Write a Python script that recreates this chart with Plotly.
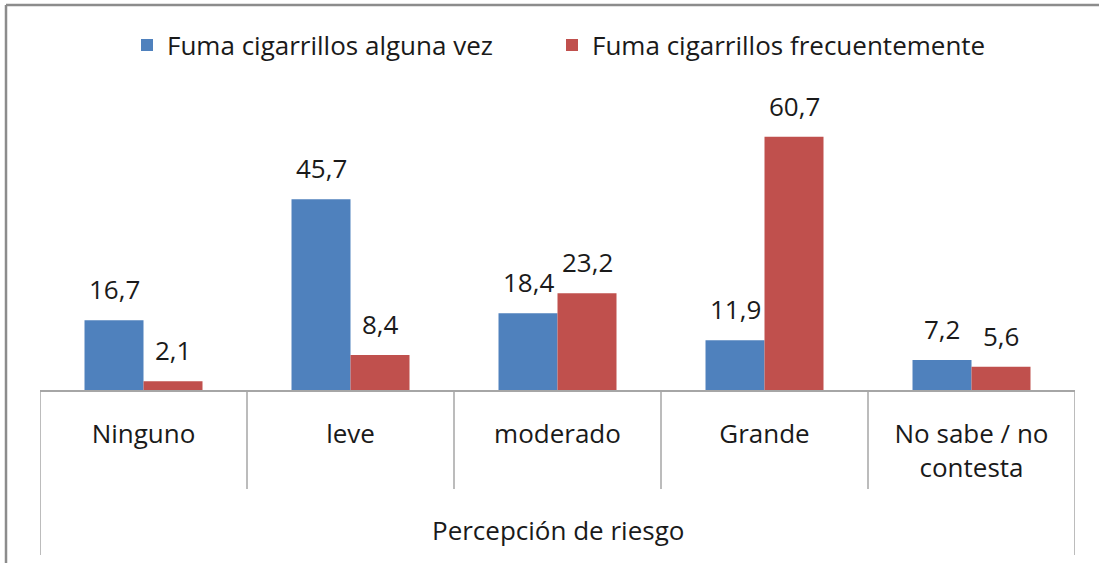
import plotly.graph_objects as go

# categories and series
categorias = ["Ninguno", "leve", "moderado", "Grande", "No sabe / no<br>contesta"]
alguna_vez = [16.7, 45.7, 18.4, 11.9, 7.2]
frecuente = [2.1, 8.4, 23.2, 60.7, 5.6]
series = [
    ("Fuma cigarrillos alguna vez", alguna_vez, "#4F81BD", "legend", 140),
    ("Fuma cigarrillos frecuentemente", frecuente, "#C0504D", "legend2", 565),
]
eje_titulo = "Percepción de riesgo"

FONT = "Open Sans"
TXT = "#1a1a1a"
GRID = "#a6a6a6"

# layout in pixels -> paper fractions
W, H = 1099, 563
L, R, T, B = 40, 24, 98, 173
PW, PH = W - L - R, H - T - B
def px_x(px):
    return (px - L) / PW
def px_y(py):
    return (H - B - py) / PH

BARGAP = 0.43
bar_w = (1 - BARGAP) / 2

fig = go.Figure()
for nombre, valores, color, leg, _ in series:
    fig.add_trace(go.Bar(
        name=nombre, x=list(range(len(categorias))), y=valores,
        marker=dict(color=color, line=dict(width=0)), legend=leg,
    ))

# value labels, a bit above each bar
for k, (nombre, valores, color, leg, _) in enumerate(series):
    off = (k - 0.5) * bar_w
    for i, v in enumerate(valores):
        fig.add_annotation(
            x=i + off, y=v, xref="x", yref="y",
            text=f"{v:.1f}".replace(".", ","),
            showarrow=False, yanchor="bottom", yshift=11,
            font=dict(family=FONT, size=26, color=TXT),
        )

# table-like dividers under the category axis
n = len(categorias)
for j in range(n + 1):
    outer = j in (0, n)
    fig.add_shape(
        type="line", xref="x", yref="paper",
        x0=j - 0.5, x1=j - 0.5, y0=0, y1=px_y(555 if outer else 489),
        line=dict(color=GRID, width=1.5),
    )

fig.add_annotation(
    x=0.5, y=px_y(530), xref="paper", yref="paper", text=eje_titulo,
    showarrow=False, yanchor="middle",
    font=dict(family=FONT, size=26, color=TXT),
)

# outer chart frame (top and left edges visible)
fig.add_shape(type="line", xref="paper", yref="paper",
              x0=px_x(6), x1=px_x(W + 5), y0=px_y(5), y1=px_y(5),
              line=dict(color="#8c8c8c", width=2.5))
fig.add_shape(type="line", xref="paper", yref="paper",
              x0=px_x(6), x1=px_x(6), y0=px_y(5), y1=px_y(H + 5),
              line=dict(color="#8c8c8c", width=2.5))

# one legend box per series so the two entries sit where the original has them
legends = {}
for nombre, valores, color, leg, sq_x in series:
    legends[leg] = dict(
        orientation="h", xref="container", x=(sq_x - 13) / W, xanchor="left",
        yref="container", y=1 - 45 / H, yanchor="middle",
        font=dict(family=FONT, size=26, color=TXT),
        itemwidth=30, bgcolor="rgba(0,0,0,0)",
    )

fig.update_layout(
    width=W, height=H,
    margin=dict(l=L, r=R, t=T, b=B),
    barmode="group", bargap=BARGAP, bargroupgap=0,
    plot_bgcolor="white", paper_bgcolor="white",
    font=dict(family=FONT, size=26, color=TXT),
    showlegend=True,
    **legends,
    xaxis=dict(
        tickmode="array", tickvals=list(range(n)), ticktext=categorias,
        range=[-0.5, n - 0.5], showline=True, linecolor=GRID, linewidth=1.5,
        ticks="", showgrid=False, zeroline=False, ticklabelstandoff=20,
        tickfont=dict(family=FONT, size=26, color=TXT), fixedrange=True,
    ),
    yaxis=dict(range=[0, 70], visible=False, fixedrange=True),
)

# drop the default 8px body margin so the chart fills the window
fig.write_html("out.html", config={"displayModeBar": False},
               post_script="document.body.style.margin='0';")
